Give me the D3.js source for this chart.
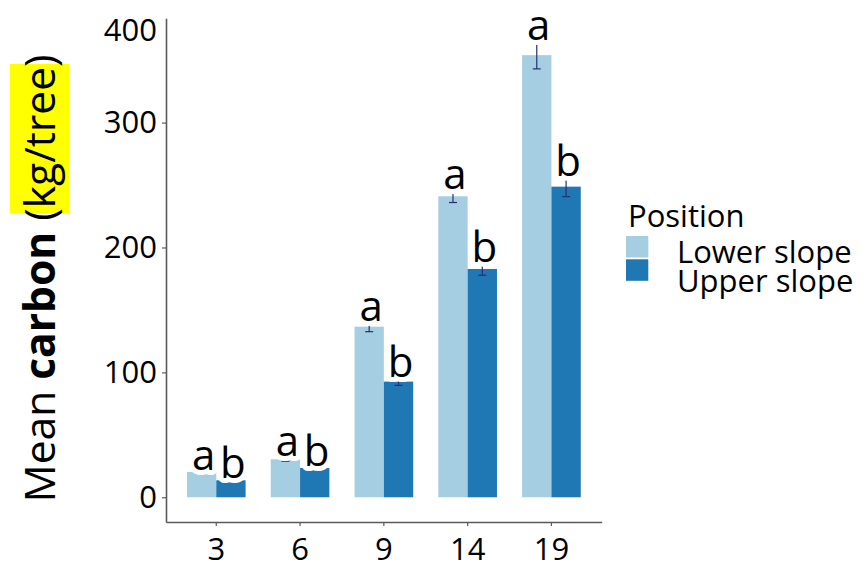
<!DOCTYPE html>
<html>
<head>
<meta charset="utf-8">
<script src="https://cdn.jsdelivr.net/npm/d3@7"></script>
<style>
  html, body { margin: 0; padding: 0; background: #ffffff; }
  svg { display: block; font-family: "Open Sans", "Noto Sans", sans-serif; }
</style>
</head>
<body>
<svg id="chart" width="868" height="569"></svg>
<script>
// Stand age (years) on the x axis
const ages = ["3", "6", "9", "14", "19"];
// Slope positions (legend order)
const positions = ["Lower slope", "Upper slope"];
// Mean carbon per tree (kg/tree)
const lowerMean = [20.3, 30.4, 136.6, 241, 354];
const upperMean = [13.6, 23.5, 92.6, 182.8, 248.7];
// Standard errors
const lowerSE = [1, 1.5, 4, 5, 11];
const upperSE = [1, 1, 3, 5, 8];
// Significance letters
const lowerLetters = ["a", "a", "a", "a", "a"];
const upperLetters = ["b", "b", "b", "b", "b"];
// Axis ticks
const yTicks = [0, 100, 200, 300];
const yTopLabel = "400";
const colors = ["#a6cee3", "#1f78b4"];

const rows = [];
ages.forEach((age, i) => {
  rows.push({ age, pos: positions[0], mean: lowerMean[i], se: lowerSE[i], letter: lowerLetters[i], color: colors[0] });
  rows.push({ age, pos: positions[1], mean: upperMean[i], se: upperSE[i], letter: upperLetters[i], color: colors[1] });
});

const svg = d3.select("#chart");
const plotLeft = 166, plotRight = 601.7, plotTop = 18.3, plotBottom = 522;

const x = d3.scaleBand().domain(ages).range([plotLeft, plotRight]).paddingInner(0.3).paddingOuter(0.25);
const xSub = d3.scaleBand().domain(positions).range([0, x.bandwidth()]).padding(0);
const y = d3.scaleLinear().domain([-19.8, 383.5]).range([plotBottom, plotTop]);

// Bars
svg.append("g").selectAll("rect").data(rows).join("rect")
  .attr("x", d => x(d.age) + xSub(d.pos))
  .attr("y", d => y(d.mean))
  .attr("width", xSub.bandwidth())
  .attr("height", d => y(0) - y(d.mean))
  .attr("fill", d => d.color);

// Error bars
const eb = svg.append("g").attr("stroke", "#26306e").attr("stroke-width", 1.2).attr("fill", "none");
rows.forEach(d => {
  const cx = x(d.age) + xSub(d.pos) + xSub.bandwidth() / 2;
  const y1 = y(d.mean + d.se), y0 = y(d.mean - d.se);
  eb.append("line").attr("x1", cx).attr("x2", cx).attr("y1", y1).attr("y2", y0);
  eb.append("line").attr("x1", cx - 4).attr("x2", cx + 4).attr("y1", y1).attr("y2", y1);
  eb.append("line").attr("x1", cx - 4).attr("x2", cx + 4).attr("y1", y0).attr("y2", y0);
});

// Significance letters with a white halo
svg.append("g").selectAll("text").data(rows).join("text")
  .attr("x", d => x(d.age) + xSub(d.pos) + xSub.bandwidth() / 2 + 2)
  .attr("y", d => y(d.mean + d.se) - 1)
  .attr("text-anchor", "middle")
  .attr("font-size", 42)
  .attr("fill", "#000")
  .attr("stroke", "#fff")
  .attr("stroke-width", 10)
  .attr("stroke-linejoin", "round")
  .attr("paint-order", "stroke")
  .text(d => d.letter);

// Axes
const axisColor = "#5a5a5a";
const yAxis = svg.append("g").attr("transform", `translate(${plotLeft},0)`)
  .call(d3.axisLeft(y).tickValues(yTicks).tickSize(4).tickSizeOuter(0).tickPadding(5));
const xAxis = svg.append("g").attr("transform", `translate(0,${plotBottom})`)
  .call(d3.axisBottom(x).tickSize(4).tickSizeOuter(0).tickPadding(12));
[yAxis, xAxis].forEach(g => {
  g.select(".domain").attr("stroke", axisColor).attr("stroke-width", 1.6);
  g.selectAll(".tick line").attr("stroke", axisColor).attr("stroke-width", 1.2);
  g.selectAll(".tick text").attr("fill", "#000").attr("font-size", 31)
    .attr("font-family", "'Open Sans', sans-serif");
});
xAxis.selectAll(".tick text").attr("dy", "0.71em");

yAxis.append("text")
  .attr("x", -9).attr("y", y(374))
  .attr("dy", "0.35em")
  .attr("text-anchor", "end")
  .attr("fill", "#000")
  .attr("font-size", 31)
  .attr("font-family", "'Open Sans', sans-serif")
  .text(yTopLabel);

// Y axis title, "kg/tree" highlighted in yellow
const tg = svg.append("g").attr("transform", "translate(55,278.5) rotate(-90)");
const hl = tg.append("rect").attr("fill", "#ffff00");
const title = tg.append("text").attr("text-anchor", "middle").attr("font-size", 42.5).attr("fill", "#000");
const parts = [["Mean ", "normal"], ["carbon", "bold"], [" (", "normal"], ["kg/tree", "normal"], [")", "normal"]];
parts.forEach(([t, w]) => title.append("tspan").attr("font-weight", w).text(t));
const node = title.node();
const startIdx = "Mean carbon (".length;
const endIdx = startIdx + "kg/tree".length - 1;
const x0 = node.getStartPositionOfChar(startIdx).x;
const x1 = node.getEndPositionOfChar(endIdx).x;
hl.attr("x", x0 - 5).attr("width", x1 - x0 + 8).attr("y", -45).attr("height", 59);

// Legend
const lg = svg.append("g");
lg.append("text").attr("x", 628).attr("y", 226.5).attr("font-size", 31).attr("fill", "#000").text("Position");
positions.forEach((p, i) => {
  lg.append("rect").attr("x", 626).attr("y", 236 + i * 23.3).attr("width", 22.3).attr("height", 21.5).attr("fill", colors[i]);
  lg.append("text").attr("x", 677).attr("y", 263 + i * 29).attr("font-size", 31).attr("fill", "#000").text(p);
});
</script>
</body>
</html>
